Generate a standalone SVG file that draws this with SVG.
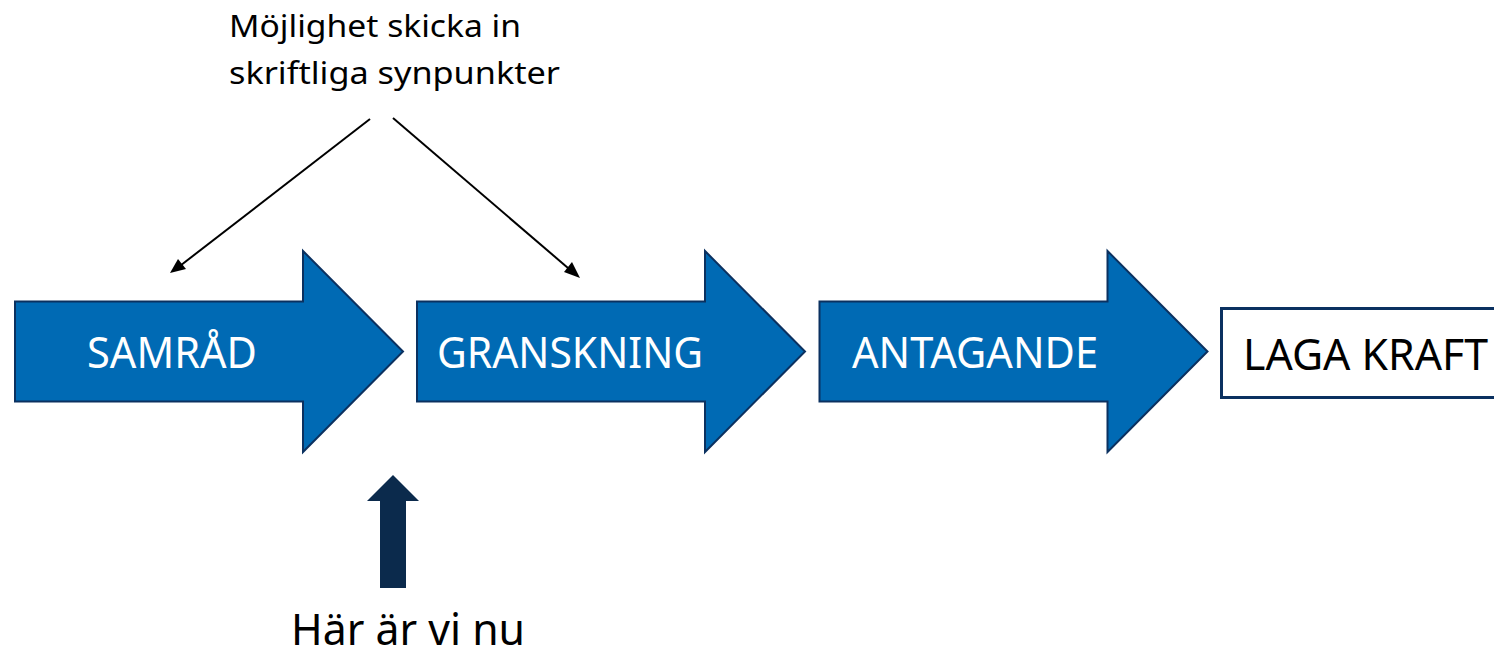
<svg xmlns="http://www.w3.org/2000/svg" width="1494" height="653" viewBox="0 0 1494 653">
<defs>
<style>
.step{fill:#006ab4;stroke:#0b3160;stroke-width:2}
.lbl{font-family:"Noto Sans","Open Sans",sans-serif;font-size:43px;fill:#ffffff}
.dark{font-family:"Noto Sans","Open Sans",sans-serif;fill:#000000}
.conn{stroke:#000;stroke-width:2;fill:none}
</style>
</defs>
<rect width="1494" height="653" fill="#ffffff"/>
<g id="note">
<text class="dark" font-size="31" x="229" y="37" textLength="292" lengthAdjust="spacingAndGlyphs">Möjlighet skicka in</text>
<text class="dark" font-size="31" x="229" y="84" textLength="331" lengthAdjust="spacingAndGlyphs">skriftliga synpunkter</text>
</g>
<g id="connectors">
<line class="conn" x1="370" y1="119" x2="176" y2="269"/>
<polygon points="170,273 178,259 186,269" fill="#000"/>
<line class="conn" x1="393" y1="118" x2="575" y2="274"/>
<polygon points="580,278 564,272 572,262" fill="#000"/>
</g>
<g id="samrad">
<polygon class="step" points="15,301.5 303,301.5 303,251 403,351.5 303,452 303,401.5 15,401.5"/>
<text class="lbl" x="87" y="368" textLength="170" lengthAdjust="spacingAndGlyphs">SAMRÅD</text>
</g>
<g id="granskning">
<polygon class="step" points="417,301.5 705,301.5 705,251 805,351.5 705,452 705,401.5 417,401.5"/>
<text class="lbl" x="437" y="368" textLength="266" lengthAdjust="spacingAndGlyphs">GRANSKNING</text>
</g>
<g id="antagande">
<polygon class="step" points="819.5,301.5 1107.5,301.5 1107.5,251 1207.5,351.5 1107.5,452 1107.5,401.5 819.5,401.5"/>
<text class="lbl" x="852" y="368" textLength="246" lengthAdjust="spacingAndGlyphs">ANTAGANDE</text>
</g>
<g id="laga-kraft">
<rect x="1221.5" y="308.5" width="290" height="89" fill="#ffffff" stroke="#0b3160" stroke-width="3"/>
<text class="dark" font-size="43" x="1243" y="370" textLength="245" lengthAdjust="spacingAndGlyphs">LAGA KRAFT</text>
</g>
<g id="here">
<polygon points="393,475 419,501 406,501 406,588 380,588 380,501 367,501" fill="#0b2a4c"/>
<text class="dark" font-size="44" x="291" y="645" textLength="234" lengthAdjust="spacingAndGlyphs">Här är vi nu</text>
</g>
</svg>
